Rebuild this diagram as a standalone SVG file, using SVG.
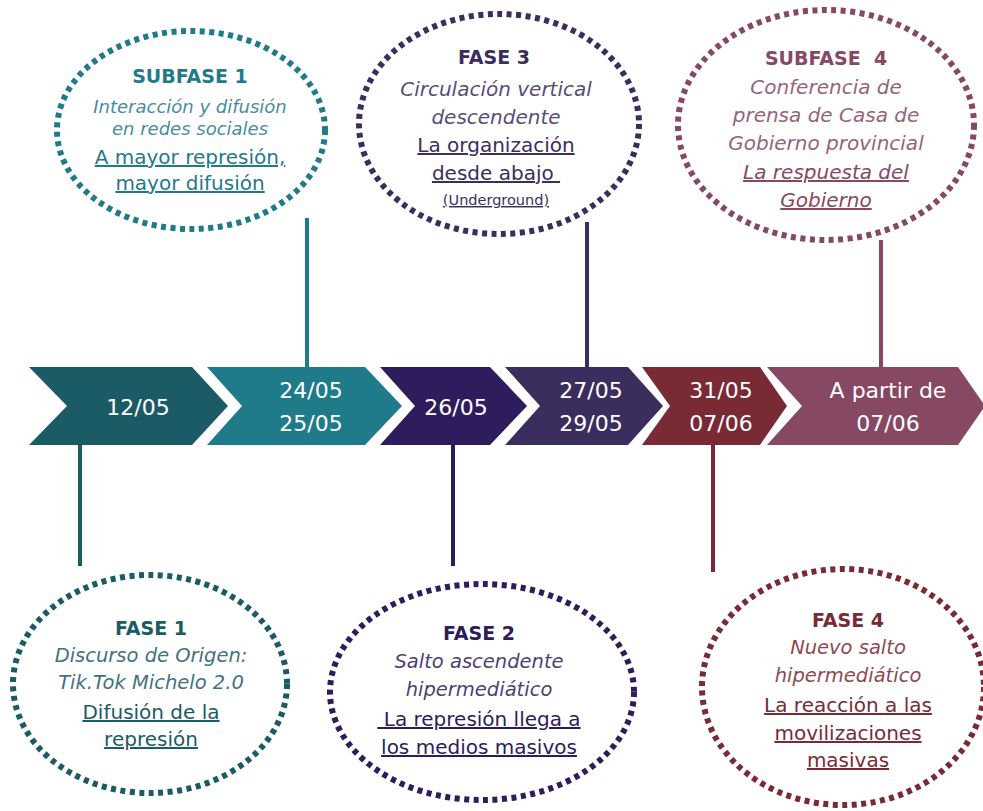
<svg xmlns="http://www.w3.org/2000/svg" width="983" height="811" viewBox="0 0 983 811">
<style>
text{font-family:"DejaVu Sans","Liberation Sans",sans-serif;text-anchor:middle}
.d{fill:#ffffff;font-size:22px}
.t{font-weight:bold;font-size:19px}
.i{font-style:italic;font-size:19.5px;opacity:0.85}
.u{font-size:20px;text-decoration:underline}
.bub{fill:none;stroke-width:6;stroke-dasharray:5 4.5}
.con{stroke-width:4;fill:none}
.c1{fill:#1b5b66}.s1{stroke:#1b5b66}
.c2{fill:#1f7a8a}.s2{stroke:#1f7a8a}
.c3{fill:#2f1c5c}.s3{stroke:#2f1c5c}
.c4{fill:#3b2e5e}.s4{stroke:#3b2e5e}
.c5{fill:#7a2a35}.s5{stroke:#7a2a35}
.c6{fill:#874863}.s6{stroke:#874863}
</style>
<rect width="983" height="811" fill="#ffffff"/>
<g id="connectors">
<line class="con s2" x1="307" y1="218" x2="307" y2="368"/>
<line class="con s4" x1="587" y1="222" x2="587" y2="368"/>
<line class="con s6" x1="881" y1="240" x2="881" y2="368"/>
<line class="con s1" x1="80" y1="444" x2="80" y2="566"/>
<line class="con s3" x1="453" y1="444" x2="453" y2="566"/>
<line class="con s5" x1="713" y1="444" x2="713" y2="572"/>
</g>
<g id="timeline">
<g id="ch1"><polygon class="c1" points="29,367 192,367 228,406 192,445 29,445 67,406"/><text class="d" x="138" y="415">12/05</text></g>
<g id="ch2"><polygon class="c2" points="207,367 365,367 402,406 365,445 207,445 242,406"/><text class="d" x="311" y="398">24/05</text><text class="d" x="311" y="431">25/05</text></g>
<g id="ch3"><polygon class="c3" points="380,367 490,367 527,406 490,445 380,445 415,406"/><text class="d" x="456" y="415">26/05</text></g>
<g id="ch4"><polygon class="c4" points="505,367 628,367 663,406 628,445 505,445 540,406"/><text class="d" x="591" y="398">27/05</text><text class="d" x="591" y="431">29/05</text></g>
<g id="ch5"><polygon class="c5" points="642,367 760,367 787,406 760,445 642,445 670,406"/><text class="d" x="721" y="398">31/05</text><text class="d" x="721" y="431">07/06</text></g>
<g id="ch6"><polygon class="c6" points="767,367 958,367 985,406 958,445 767,445 802,406"/><text class="d" x="888" y="398">A partir de</text><text class="d" x="888" y="431">07/06</text></g>
</g>
<g id="subfase1">
<ellipse class="bub s2" cx="191" cy="130" rx="134" ry="99"/>
<text class="t c2" x="190" y="83">SUBFASE 1</text>
<text class="i c2" x="190" y="113" style="font-size:18px">Interacción y difusión</text>
<text class="i c2" x="190" y="135" style="font-size:18px">en redes sociales</text>
<text class="u c2" x="190" y="164">A mayor represión,</text>
<text class="u c2" x="190" y="190">mayor difusión</text>
</g>
<g id="fase3">
<ellipse class="bub s4" cx="499" cy="124" rx="140" ry="110"/>
<text class="t c4" x="494" y="64">FASE 3</text>
<text class="i c4" x="496" y="96" style="font-size:20px">Circulación vertical</text>
<text class="i c4" x="496" y="124" style="font-size:20px">descendente</text>
<text class="u c4" x="496" y="152">La organización</text>
<text class="u c4" x="496" y="180" xml:space="preserve">desde abajo </text>
<text class="u c4" x="496" y="205" style="font-size:14.5px">(Underground)</text>
</g>
<g id="subfase4">
<ellipse class="bub s6" cx="826" cy="125" rx="148" ry="115"/>
<text class="t c6" x="826" y="65" xml:space="preserve">SUBFASE  4</text>
<text class="i c6" x="826" y="94" style="font-size:20px">Conferencia de</text>
<text class="i c6" x="826" y="122" style="font-size:20px">prensa de Casa de</text>
<text class="i c6" x="826" y="150" style="font-size:20px">Gobierno provincial</text>
<text class="i u c6" x="826" y="179" style="opacity:1">La respuesta del</text>
<text class="i u c6" x="826" y="207" style="opacity:1">Gobierno</text>
</g>
<g id="fase1">
<ellipse class="bub s1" cx="150" cy="684" rx="137" ry="109"/>
<text class="t c1" x="151" y="635">FASE 1</text>
<text class="i c1" x="151" y="662">Discurso de Origen:</text>
<text class="i c1" x="151" y="689">Tik.Tok Michelo 2.0</text>
<text class="u c1" x="151" y="719">Difusión de la</text>
<text class="u c1" x="151" y="746">represión</text>
</g>
<g id="fase2">
<ellipse class="bub s3" cx="482" cy="692" rx="152" ry="108"/>
<text class="t c3" x="479" y="640">FASE 2</text>
<text class="i c3" x="479" y="668">Salto ascendente</text>
<text class="i c3" x="479" y="696">hipermediático</text>
<text class="u c3" x="479" y="726" xml:space="preserve"> La represión llega a</text>
<text class="u c3" x="479" y="754">los medios masivos</text>
</g>
<g id="fase4">
<ellipse class="bub s5" cx="843" cy="687" rx="141" ry="118"/>
<text class="t c5" x="848" y="627">FASE 4</text>
<text class="i c5" x="848" y="654">Nuevo salto</text>
<text class="i c5" x="848" y="682">hipermediático</text>
<text class="u c5" x="848" y="712">La reacción a las</text>
<text class="u c5" x="848" y="740">movilizaciones</text>
<text class="u c5" x="848" y="767">masivas</text>
</g>
</svg>
